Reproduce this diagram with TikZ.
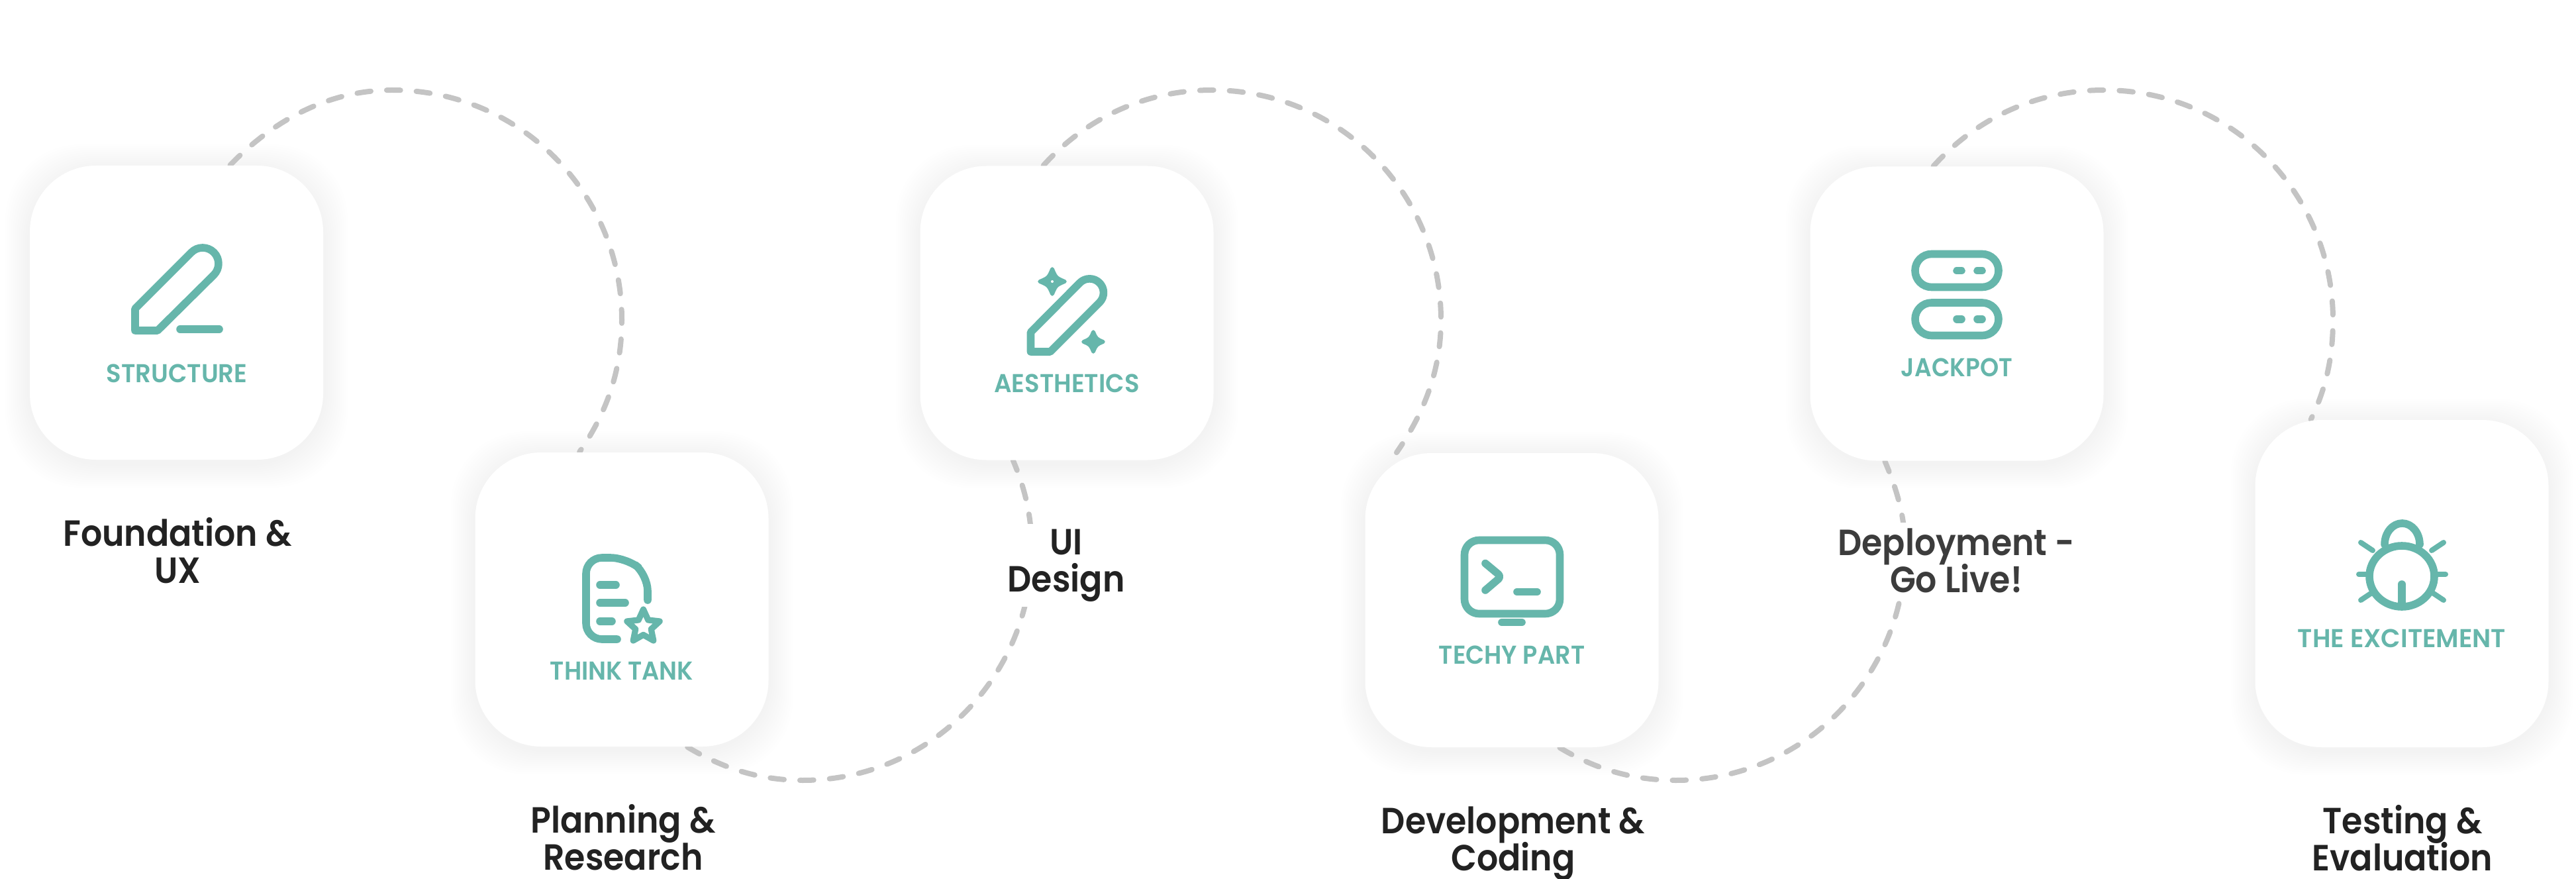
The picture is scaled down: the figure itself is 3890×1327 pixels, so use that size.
\documentclass[tikz,border=0pt]{standalone}
\usepackage{fontspec}
\setmainfont{Poppins}
\newfontfamily\headfont{Poppins SemiBold}
\usetikzlibrary{shapes.geometric}
\definecolor{tealColor}{RGB}{102,182,171}
\definecolor{inkColor}{RGB}{34,34,34}
\definecolor{softInk}{RGB}{60,60,60}
\definecolor{dashColor}{RGB}{196,196,196}
\pgfdeclarelayer{back}
\pgfsetlayers{back,main}
\newcommand{\headsize}{\headfont\fontsize{13.75}{14}\selectfont\lineskiplimit=-10pt\relax}
\tikzset{
  stepbox/.style={fill=white,inner sep=0pt,minimum width=110.75pt,minimum height=111pt,rounded corners=25pt},
  tealtext/.style={text=tealColor,anchor=base,inner sep=0pt,font=\headfont\fontsize{9.75}{12}\selectfont},
  headtext/.style={text=inkColor,anchor=base,align=center,inner sep=0pt,xscale=0.92,font=\headsize},
  iconline/.style={draw=tealColor,line width=2.9pt,line cap=round,line join=round},
  iconfill/.style={fill=tealColor,draw=tealColor,line width=1.4pt,line join=round},
  flowline/.style={draw=dashColor,line width=2pt,line cap=round,dash pattern=on 5.2pt off 6pt}
}
\newcommand{\softshadow}[1]{
\foreach \g in {3,6,...,36}{
\fill[black,opacity=0.005,rounded corners=28pt] ([shift={(-\g,-\g+5)}]#1.north west) rectangle ([shift={(\g,\g+5)}]#1.south east);}
}
\newcommand{\sparkle}[3]{
\path[iconfill] (#1,#2-#3) .. controls (#1+0.3*#3,#2-0.3*#3) .. (#1+#3,#2) .. controls (#1+0.3*#3,#2+0.3*#3) .. (#1,#2+#3) .. controls (#1-0.3*#3,#2+0.3*#3) .. (#1-#3,#2) .. controls (#1-0.3*#3,#2-0.3*#3) .. cycle;
}
\begin{document}
\begin{tikzpicture}[x=0.25pt,y=-0.25pt]
\useasboundingbox (0,0) rectangle (3890,1327);

% cards
\node[stepbox] (stepA) at (266.5,472) {};
\node[stepbox] (stepB) at (939,905) {};
\node[stepbox] (stepC) at (1611,472.5) {};
\node[stepbox] (stepD) at (2283,906) {};
\node[stepbox] (stepE) at (2955,473.5) {};
\node[stepbox,minimum height=123.5pt] (stepF) at (3627,881) {};

% card texts
\node[tealtext,xscale=0.95] (tagA) at (267,577) {STRUCTURE};
\node[tealtext,xscale=0.94] (tagB) at (939,1026) {THINK TANK};
\node[tealtext,xscale=0.95] (tagC) at (1611,592) {AESTHETICS};
\node[tealtext,xscale=0.94] (tagD) at (2283,1002) {TECHY PART};
\node[tealtext,xscale=0.92] (tagE) at (2955,569) {JACKPOT};
\node[tealtext,xscale=0.985] (tagF) at (3627,977) {THE EXCITEMENT};

% step names
\node[headtext] (nameA) at (268,880) {Foundation \&\\UX};
\node[headtext] (nameB) at (941,1313) {Planning \&\\Research};
\node[headtext,fill=white,inner sep=2pt] (nameC) at (1610,893) {UI\\Design};
\node[headtext] (nameD) at (2285,1314) {Development \&\\Coding};
\node[headtext,fill=white,inner sep=2pt,text=softInk] (nameE) at (2954,894) {Deployment -\\Go Live!};
\node[headtext] (nameF) at (3628,1314) {Testing \&\\Evaluation};

% dashed circles
\coordinate (topA) at (592,136);
\coordinate (sideA) at (939,483);
\coordinate (lowB) at (1212,1178);
\coordinate (sideB) at (1558,830);
\coordinate (topC) at (1830,136);
\coordinate (sideC) at (2176,483);
\coordinate (lowD) at (2531,1178);
\coordinate (sideD) at (2877,830);
\coordinate (topE) at (3177,136);
\coordinate (sideE) at (3523,483);

\begin{pgfonlayer}{back}
\softshadow{stepA}
\softshadow{stepB}
\softshadow{stepC}
\softshadow{stepD}
\softshadow{stepE}
\softshadow{stepF}
\draw[flowline] (stepA.70) to[out=46,in=180,looseness=0.9] (topA) to[out=0,in=90] (sideA) to[out=-90,in=55,looseness=0.9] (stepB.106);
\draw[flowline] (stepB.-66) to[out=-31,in=180,looseness=0.9] (lowB) to[out=0,in=-90] (sideB) to[out=90,in=-67,looseness=0.9] (stepC.-110);
\draw[flowline] (stepC.99) to[out=48,in=180,looseness=0.9] (topC) to[out=0,in=90] (sideC) to[out=-90,in=55,looseness=0.9] (stepD.128);
\draw[flowline] (stepD.-72) to[out=-31,in=180,looseness=0.9] (lowD) to[out=0,in=-90] (sideD) to[out=90,in=-67,looseness=0.9] (stepE.-116);
\draw[flowline] (stepE.99) to[out=48,in=180,looseness=0.9] (topE) to[out=0,in=90] (sideE) to[out=-90,in=64,looseness=0.9] (stepF.119);
\end{pgfonlayer}

% pencil
\draw[iconline] (204,499) -- (204,466) -- (289,381) arc[start angle=-135,end angle=45,radius=24] -- (238,499) -- cycle;
\draw[iconline] (272,497) -- (331,497);

% document with star
\draw[iconline,rounded corners=6pt] (978,906) -- (978,868) -- (946,842) -- (885,842) -- (885,965) -- (932,965);
\draw[iconline] (906,883) -- (930,883);
\draw[iconline] (906,910) -- (944,910);
\draw[iconline] (906,938) -- (924,938);
\node[star,star points=5,star point ratio=2.1,draw=tealColor,line width=2.3pt,line join=round,inner sep=0pt,minimum size=13pt] (docstar) at (971.5,946) {};

% pencil with sparkles
\draw[iconline] (1586,531) -- (1556.5,531) -- (1556.5,501.5) -- (1630.6,427) arc[start angle=-135,end angle=45,radius=21] -- cycle;
\sparkle{1589}{425}{19}
\sparkle{1651}{516}{15}
\fill[white] (1589,425) circle (2);

% monitor
\draw[iconline,rounded corners=5.5pt] (2211.5,815.5) rectangle (2355.5,926.5);
\draw[iconline] (2268,939.5) -- (2298,939.5);
\draw[iconline,rounded corners=1.5pt] (2243,850.5) -- (2267,870.5) -- (2243,891);
\draw[iconline] (2291,893.5) -- (2321,893.5);

% servers
\draw[iconline,rounded corners=6.2pt] (2892,383.5) rectangle (3018,433.5);
\draw[iconline,rounded corners=6.2pt] (2892,457) rectangle (3018,506.5);
\draw[iconline] (2955,408.7) -- (2962,408.7);
\draw[iconline] (2986,408.7) -- (2993,408.7);
\draw[iconline] (2955,481.7) -- (2962,481.7);
\draw[iconline] (2986,481.7) -- (2993,481.7);

% bug
\draw[iconline] (3627,870) ellipse [x radius=49,y radius=46];
\draw[iconline] (3601,822) arc[start angle=180,end angle=360,x radius=26.5,y radius=32];
\draw[iconline] (3627,882) -- (3627,915);
\draw[iconline,line width=2pt] (3565,819) -- (3583,831);
\draw[iconline,line width=2pt] (3562,867) -- (3575,867);
\draw[iconline,line width=2pt] (3565,906) -- (3583,894);
\draw[iconline,line width=2pt] (3690,819) -- (3672,831);
\draw[iconline,line width=2pt] (3693,867) -- (3680,867);
\draw[iconline,line width=2pt] (3690,906) -- (3672,894);
\end{tikzpicture}
\end{document}
